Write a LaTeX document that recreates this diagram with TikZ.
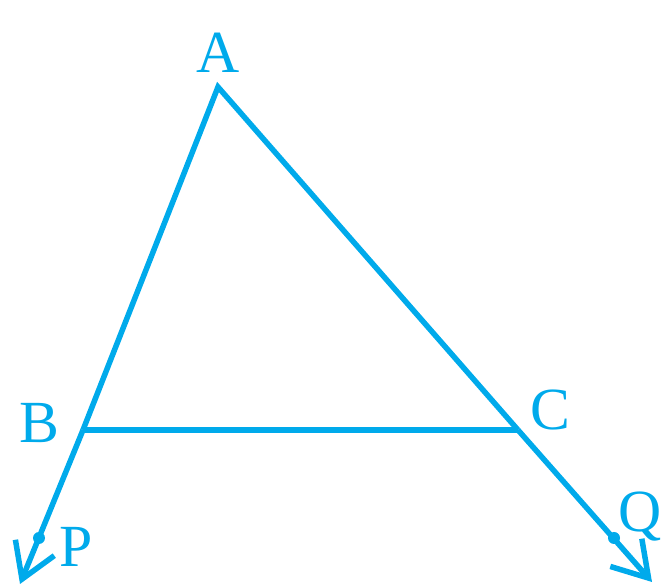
\documentclass[tikz,border=0pt]{standalone}
\usepackage{fontspec}
\setmainfont{Liberation Serif}
\usepackage{xcolor}
\usetikzlibrary{arrows.meta}
\definecolor{geoblue}{RGB}{0,170,235}

\begin{document}
\begin{tikzpicture}[
  x=1bp, y=1bp,
  side/.style={draw=geoblue, line width=5.5bp},
  arr/.style={side, -{Straight Barb[length=34bp, width=42bp, line width=5.5bp]}},
  lbl/.style={text=geoblue, font=\fontsize{60}{66}\selectfont, inner sep=0pt},
  pt/.style={circle, fill=geoblue, inner sep=0pt, minimum size=12bp}
]
\useasboundingbox (0,0) rectangle (663,588);

% vertices and ray ends
\coordinate (A) at (218,501);
\coordinate (B) at (83,158);
\coordinate (C) at (518,158);
\coordinate (Pend) at (20,4);
\coordinate (Qend) at (652,6);
\node[pt] (P) at (39,50) {};
\node[pt] (Q) at (614,50) {};

% triangle
\draw[side, line join=miter] (B) -- (A) -- (C);
\draw[side] (B) -- (C);

% produced sides
\draw[arr] (B) -- (Pend);
\draw[arr] (C) -- (Qend);

% labels
\node[lbl] (labA) at (218,535) {A};
\node[lbl] (labB) at (39,165) {B};
\node[lbl] (labC) at (550,178) {C};
\node[lbl] (labP) at (76,41) {P};
\node[lbl] (labQ) at (640,71) {Q};
\end{tikzpicture}
\end{document}
